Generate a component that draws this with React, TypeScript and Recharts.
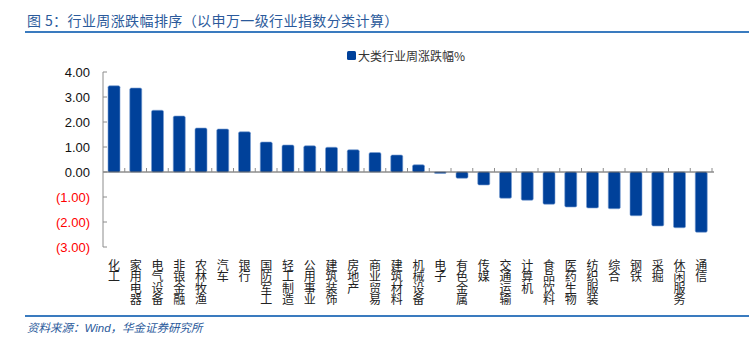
import React from "react";
import { BarChart, Bar, XAxis, YAxis, ReferenceLine } from "recharts";

const industries = [
  "化工", "家用电器", "电气设备", "非银金融", "农林牧渔", "汽车", "银行",
  "国防军工", "轻工制造", "公用事业", "建筑装饰", "房地产", "商业贸易", "建筑材料",
  "机械设备", "电子", "有色金属", "传媒", "交通运输", "计算机", "食品饮料",
  "医药生物", "纺织服装", "综合", "钢铁", "采掘", "休闲服务", "通信",
];

const weeklyChange = [
  3.45, 3.36, 2.47, 2.24, 1.76, 1.72, 1.61,
  1.2, 1.08, 1.05, 0.99, 0.89, 0.78, 0.68,
  0.29, -0.06, -0.25, -0.52, -1.05, -1.13, -1.29,
  -1.4, -1.44, -1.47, -1.75, -2.16, -2.23, -2.41,
];

const yTicks = [4, 3, 2, 1, 0, -1, -2, -3];

const data = industries.map((name, i) => ({ name, value: weeklyChange[i] }));

const BLUE = "#00419A";
const AXIS = "#8c8c8c";

function fmt(v: number) {
  const s = Math.abs(v).toFixed(2);
  return v < 0 ? `(${s})` : s;
}

function YTick(props: any) {
  const { x, y, payload } = props;
  const v = Number(payload.value);
  return (
    <g>
      <line x1={x + 13} x2={x + 17} y1={y} y2={y} stroke={AXIS} />
      <text
        x={x}
        y={y}
        dy={5}
        textAnchor="end"
        fontSize={13}
        fontFamily="Liberation Sans, Arial, sans-serif"
        fill={v < 0 ? "#FF0000" : "#111"}
      >
        {fmt(v)}
      </text>
    </g>
  );
}

// vertical label, characters stacked top to bottom
function XTick(props: any) {
  const { x, y, payload } = props;
  return (
    <text
      x={x}
      y={y + 12}
      textAnchor="start"
      fontSize={12}
      letterSpacing={-0.4}
      fontFamily="Noto Sans CJK SC, sans-serif"
      fill="#222"
      style={{ writingMode: "vertical-rl" }}
    >
      {payload.value}
    </text>
  );
}

function ZeroAxis(props: any) {
  const { x1, x2, y1 } = props;
  const n = industries.length;
  const step = (x2 - x1) / n;
  const marks = [];
  for (let i = 1; i <= n; i++) {
    const tx = x1 + step * i;
    marks.push(<line key={i} x1={tx} x2={tx} y1={y1} y2={y1 - 4} stroke={AXIS} />);
  }
  return (
    <g>
      <line x1={x1} x2={x2 + 2} y1={y1} y2={y1} stroke="#555" />
      {marks}
    </g>
  );
}

function BarShape(props: any) {
  const { x, y, width, height } = props;
  if (!height && height !== 0) return null;
  const h = Math.abs(height);
  const top = height < 0 ? y + height : y;
  return (
    <rect
      x={x}
      y={top}
      width={width}
      height={Math.max(h, 1)}
      rx={1.5}
      fill={BLUE}
      stroke="#7A9FD3"
      strokeWidth={0.6}
    />
  );
}

export default function App() {
  return (
    <div
      style={{
        position: "absolute",
        left: 0,
        top: 0,
        width: 749,
        height: 338,
        background: "#fff",
        overflow: "hidden",
      }}
    >
      <div
        style={{
          position: "absolute",
          left: 27,
          top: 10,
          fontSize: 14,
          letterSpacing: 0.4,
          color: "#2B5A9B",
          fontFamily: "Noto Sans CJK SC, sans-serif",
          whiteSpace: "nowrap",
        }}
      >
        图 5：行业周涨跌幅排序（以申万一级行业指数分类计算）
      </div>
      <div
        style={{
          position: "absolute",
          left: 25,
          top: 31,
          width: 724,
          height: 2,
          background: "#3A7BBF",
        }}
      />
      <div
        style={{
          position: "absolute",
          left: 347,
          top: 47,
          display: "flex",
          alignItems: "center",
          fontSize: 12,
          fontFamily: "Noto Sans CJK SC, sans-serif",
          color: "#333",
          whiteSpace: "nowrap",
        }}
      >
        <span
          style={{
            width: 9,
            height: 9,
            background: BLUE,
            borderRadius: 1.5,
            display: "inline-block",
            marginRight: 2,
          }}
        />
        大类行业周涨跌幅%
      </div>
      <BarChart
        width={749}
        height={338}
        data={data}
        margin={{ top: 72, right: 37, left: 13, bottom: 31 }}
        barSize={12}
      >
        <YAxis
          domain={[-3, 4]}
          ticks={yTicks}
          interval={0}
          width={90}
          tickSize={0}
          tickMargin={13}
          axisLine={{ stroke: AXIS }}
          tickLine={false}
          tick={<YTick />}
        />
        <XAxis
          dataKey="name"
          height={60}
          interval={0}
          tickSize={0}
          tickMargin={0}
          axisLine={false}
          tickLine={false}
          tick={<XTick />}
        />
        <ReferenceLine y={0} shape={<ZeroAxis />} />
        <Bar dataKey="value" isAnimationActive={false} shape={<BarShape />} />
      </BarChart>
      <div
        style={{
          position: "absolute",
          left: 25,
          top: 315,
          width: 724,
          height: 1.5,
          background: "#3A7BBF",
        }}
      />
      <div
        style={{
          position: "absolute",
          left: 27,
          top: 319,
          fontSize: 11.5,
          fontStyle: "italic",
          color: "#2B5A9B",
          fontFamily: "Noto Sans CJK SC, sans-serif",
          whiteSpace: "nowrap",
        }}
      >
        资料来源：<span style={{ fontFamily: "Liberation Sans, Arial" }}>Wind</span>，华金证券研究所
      </div>
    </div>
  );
}
